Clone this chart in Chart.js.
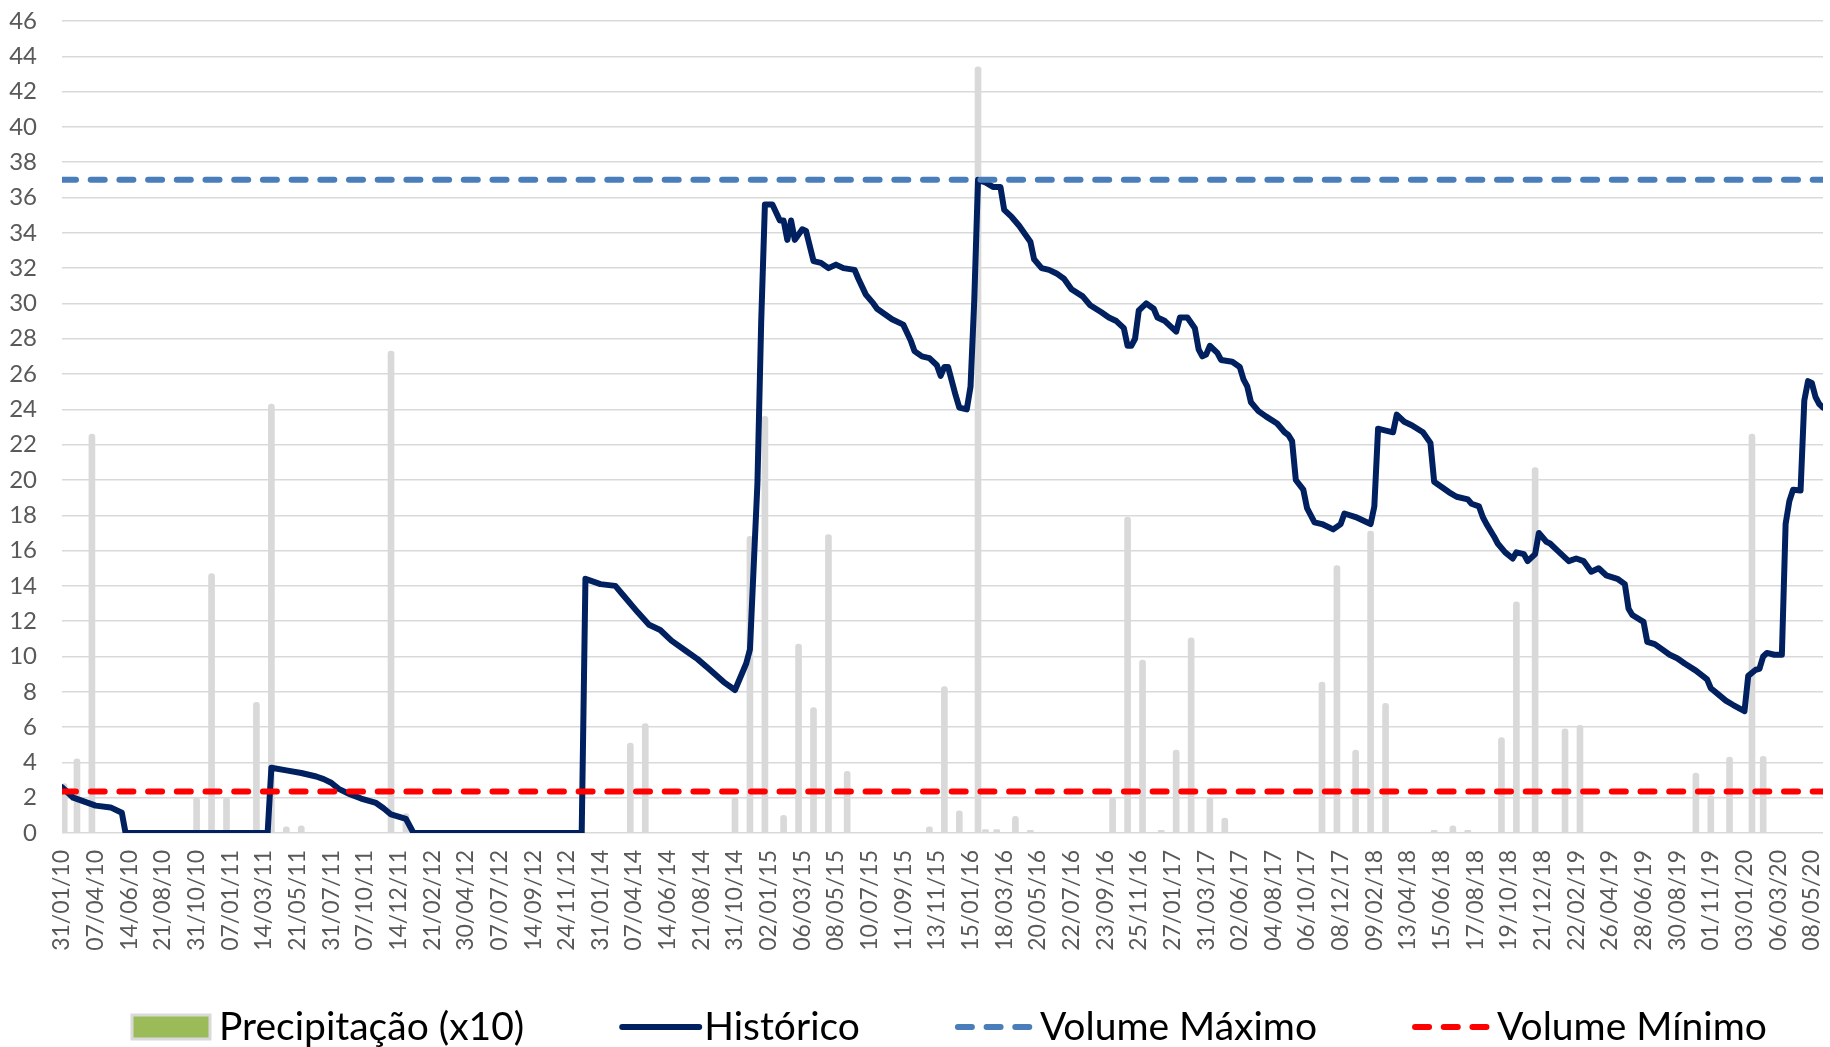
<!DOCTYPE html>
<html lang="pt">
<head>
<meta charset="utf-8">
<title>Volume armazenado</title>
<script src="https://cdn.jsdelivr.net/npm/chart.js@4.4.1/dist/chart.umd.min.js"></script>
<style>
  html, body { margin: 0; padding: 0; background: #fff; }
  #wrap { width: 1830px; height: 1047px; position: relative; }
</style>
</head>
<body>
<div id="wrap"><canvas id="grafico"></canvas></div>
<script>
// Rótulos do eixo X (um a cada 9 semanas)
const rotulosData = [
  '31/01/10','07/04/10','14/06/10','21/08/10','31/10/10','07/01/11','14/03/11','21/05/11',
  '31/07/11','07/10/11','14/12/11','21/02/12','30/04/12','07/07/12','14/09/12','24/11/12',
  '31/01/14','07/04/14','14/06/14','21/08/14','31/10/14','02/01/15','06/03/15','08/05/15',
  '10/07/15','11/09/15','13/11/15','15/01/16','18/03/16','20/05/16','22/07/16','23/09/16',
  '25/11/16','27/01/17','31/03/17','02/06/17','04/08/17','06/10/17','08/12/17','09/02/18',
  '13/04/18','15/06/18','17/08/18','19/10/18','21/12/18','22/02/19','26/04/19','28/06/19',
  '30/08/19','01/11/19','03/01/20','06/03/20','08/05/20'
];
const passoRotulo = 9;
const ultimaSemana = 471;

// Histórico (semana, volume)
const historicoSemana = [
  0,3,9,13,16,17,55,56,60,64,68,70,72,74,77,80,84,86,88,92,94,
  139,140,144,148,150,154,157,160,163,167,170,173,177,180,183,184,186,187,188,190,
  192,193,194,195,196,198,199,201,203,205,207,209,212,213,215,217,218,220,222,225,
  227,228,230,232,234,235,236,237,239,240,242,243,244,245,247,249,251,252,254,256,
  259,260,262,264,266,268,270,273,275,278,280,282,284,285,286,287,288,290,292,293,
  295,297,298,299,301,303,304,305,306,307,309,310,313,315,316,317,318,320,322,325,
  327,328,329,330,332,333,335,337,340,342,343,346,348,350,351,352,353,356,357,359,
  361,364,366,367,369,371,373,376,377,379,380,381,383,384,386,388,389,391,392,394,
  395,397,398,400,403,405,407,409,411,413,416,418,419,420,423,424,426,428,430,432,
  434,437,440,441,443,445,447,450,451,453,454,455,456,458,460,461,462,463,465,466,
  467,468,469,470,471
];
const historicoVolume = [
  2.6,2.0,1.55,1.45,1.15,0,0,3.7,3.55,3.4,3.2,3.05,2.85,2.5,2.2,1.95,1.7,1.4,1.05,0.8,0,
  0,14.4,14.1,14.0,13.5,12.5,11.8,11.5,10.9,10.3,9.85,9.3,8.55,8.1,9.6,10.4,19.8,28.9,35.6,35.6,
  34.7,34.7,33.6,34.7,33.6,34.2,34.1,32.4,32.3,32.0,32.2,32.0,31.9,31.4,30.5,30.0,29.7,29.4,29.1,28.8,
  27.9,27.3,27.0,26.9,26.5,25.9,26.4,26.4,24.8,24.1,24.0,25.3,30.2,37.0,36.85,36.6,36.6,35.3,34.9,34.4,
  33.5,32.5,32.0,31.9,31.7,31.4,30.8,30.4,29.9,29.5,29.2,29.0,28.6,27.6,27.6,28.0,29.6,30.0,29.7,29.2,
  29.0,28.6,28.4,29.2,29.2,28.6,27.4,27.0,27.1,27.6,27.2,26.8,26.7,26.4,25.7,25.3,24.4,23.9,23.6,23.2,
  22.7,22.55,22.2,20.0,19.45,18.4,17.6,17.5,17.2,17.5,18.1,17.9,17.7,17.5,18.5,22.9,22.85,22.7,23.7,23.3,
  23.1,22.7,22.1,19.9,19.6,19.3,19.05,18.9,18.65,18.5,17.9,17.5,16.8,16.4,15.9,15.55,15.9,15.8,15.4,15.8,
  17.0,16.5,16.4,16.0,15.4,15.55,15.4,14.8,15.0,14.6,14.4,14.1,12.7,12.35,11.96,10.83,10.7,10.4,10.1,9.9,
  9.6,9.2,8.7,8.2,7.85,7.5,7.25,6.9,8.9,9.25,9.3,10.0,10.2,10.1,10.1,17.5,18.8,19.45,19.4,24.5,
  25.6,25.5,24.7,24.3,24.1
];

// Precipitação (x10)
const precipSemana = [
  0.6,4,8,36,40,44,52,56,60,64,88,92,152,156,180,184,188,193,197,201,205,210,
  232,236,240,245,247,250,255,259,281,285,289,294,298,302,307,311,337,341,346,350,354,
  367,372,376,385,389,394,402,406,437,441,446,452,455
];
const precipValor = [
  2.8,4.2,22.6,2.0,14.7,2.0,7.4,24.3,0.35,0.4,27.3,1.1,5.1,6.2,2.0,16.8,23.6,1.0,10.7,7.1,16.9,3.5,
  0.35,8.3,1.25,43.4,0.2,0.2,0.95,0.15,2.0,17.9,9.8,0.15,4.7,11.05,2.0,0.85,8.55,15.15,4.7,17.1,7.35,
  0.15,0.4,0.15,5.4,13.1,20.7,5.9,6.1,3.4,2.1,4.3,22.6,4.35
];

const volumeMaximo = 37;
const volumeMinimo = 2.35;

const pares = (xs, ys) => xs.map((x, i) => ({ x, y: ys[i] }));
const horizontal = (v) => [{ x: 0, y: v }, { x: ultimaSemana, y: v }];

Chart.defaults.font.family = 'Lato';
Chart.defaults.animation = false;

// Legenda ao estilo do Excel, desenhada no fundo do canvas
const legendaExcel = {
  id: 'legendaExcel',
  afterDraw(chart) {
    const ctx = chart.ctx;
    const y = chart.height - 20;
    ctx.save();
    ctx.font = '39px Lato';
    ctx.textBaseline = 'middle';
    ctx.textAlign = 'left';
    let x = 132;
    chart.data.datasets.forEach(ds => {
      const m = ds.legenda;
      ctx.save();
      if (m.tipo === 'caixa') {
        ctx.fillStyle = m.cor;
        ctx.fillRect(x, y - 12, 78, 24);
        ctx.strokeStyle = m.borda;
        ctx.lineWidth = 3;
        ctx.strokeRect(x, y - 12, 78, 24);
        x += 78 + 9;
      } else {
        ctx.strokeStyle = m.cor;
        ctx.lineWidth = 6;
        ctx.lineCap = 'round';
        ctx.setLineDash(m.tracejado || []);
        ctx.beginPath();
        ctx.moveTo(x + 3, y);
        ctx.lineTo(x + 80, y);
        ctx.stroke();
        x += 80 + 5;
      }
      ctx.restore();
      ctx.fillStyle = '#000';
      ctx.fillText(ds.label, x, y);
      x += ctx.measureText(ds.label).width + 95;
    });
    ctx.restore();
  }
};

const tracejado = [14, 14.7];

new Chart(document.getElementById('grafico'), {
  type: 'line',
  data: {
    datasets: [
      {
        type: 'bar',
        label: 'Precipitação (x10)',
        data: pares(precipSemana, precipValor),
        backgroundColor: '#d9d9d9',
        barThickness: 6,
        borderRadius: 3,
        borderSkipped: 'start',
        order: 4,
        legenda: { tipo: 'caixa', cor: '#9bbb59', borda: '#d9d9d9' }
      },
      {
        label: 'Histórico',
        data: pares(historicoSemana, historicoVolume),
        borderColor: '#002060',
        borderWidth: 6,
        borderJoinStyle: 'round',
        borderCapStyle: 'round',
        pointRadius: 0,
        tension: 0,
        order: 3,
        legenda: { tipo: 'linha', cor: '#002060' }
      },
      {
        label: 'Volume Máximo',
        data: horizontal(volumeMaximo),
        borderColor: '#4a7ebb',
        borderWidth: 6,
        borderDash: tracejado,
        borderCapStyle: 'round',
        pointRadius: 0,
        order: 2,
        legenda: { tipo: 'linha', cor: '#4a7ebb', tracejado }
      },
      {
        label: 'Volume Mínimo',
        data: horizontal(volumeMinimo),
        borderColor: '#ff0000',
        borderWidth: 6,
        borderDash: tracejado,
        borderCapStyle: 'round',
        pointRadius: 0,
        order: 1,
        legenda: { tipo: 'linha', cor: '#ff0000', tracejado }
      }
    ]
  },
  options: {
    responsive: true,
    maintainAspectRatio: false,
    layout: { autoPadding: false, padding: { top: 21, left: 9, right: 7, bottom: 84 } },
    plugins: {
      legend: { display: false },
      tooltip: { enabled: false }
    },
    scales: {
      x: {
        type: 'linear',
        min: 0,
        max: ultimaSemana,
        offset: false,
        grid: { display: false, drawTicks: false },
        border: { display: false },
        afterBuildTicks: (scale) => {
          scale.ticks = rotulosData.map((_, i) => ({ value: i * passoRotulo }));
        },
        afterFit: (scale) => {
          scale.height = 130;
          scale.paddingLeft = 0;
          scale.paddingRight = 0;
        },
        ticks: {
          autoSkip: false,
          maxRotation: 90,
          minRotation: 90,
          padding: 17,
          color: '#595959',
          font: { size: 23 },
          callback: (v) => rotulosData[Math.round(v / passoRotulo)]
        }
      },
      y: {
        min: 0,
        max: 46,
        grid: { color: '#d9d9d9', lineWidth: 1.5, drawTicks: false },
        border: { display: false },
        afterFit: (scale) => {
          scale.width = 53;
          scale.paddingTop = 0;
          scale.paddingBottom = 0;
        },
        ticks: {
          stepSize: 2,
          padding: 25,
          color: '#595959',
          font: { size: 24 }
        }
      }
    }
  },
  plugins: [legendaExcel]
});
</script>
</body>
</html>
